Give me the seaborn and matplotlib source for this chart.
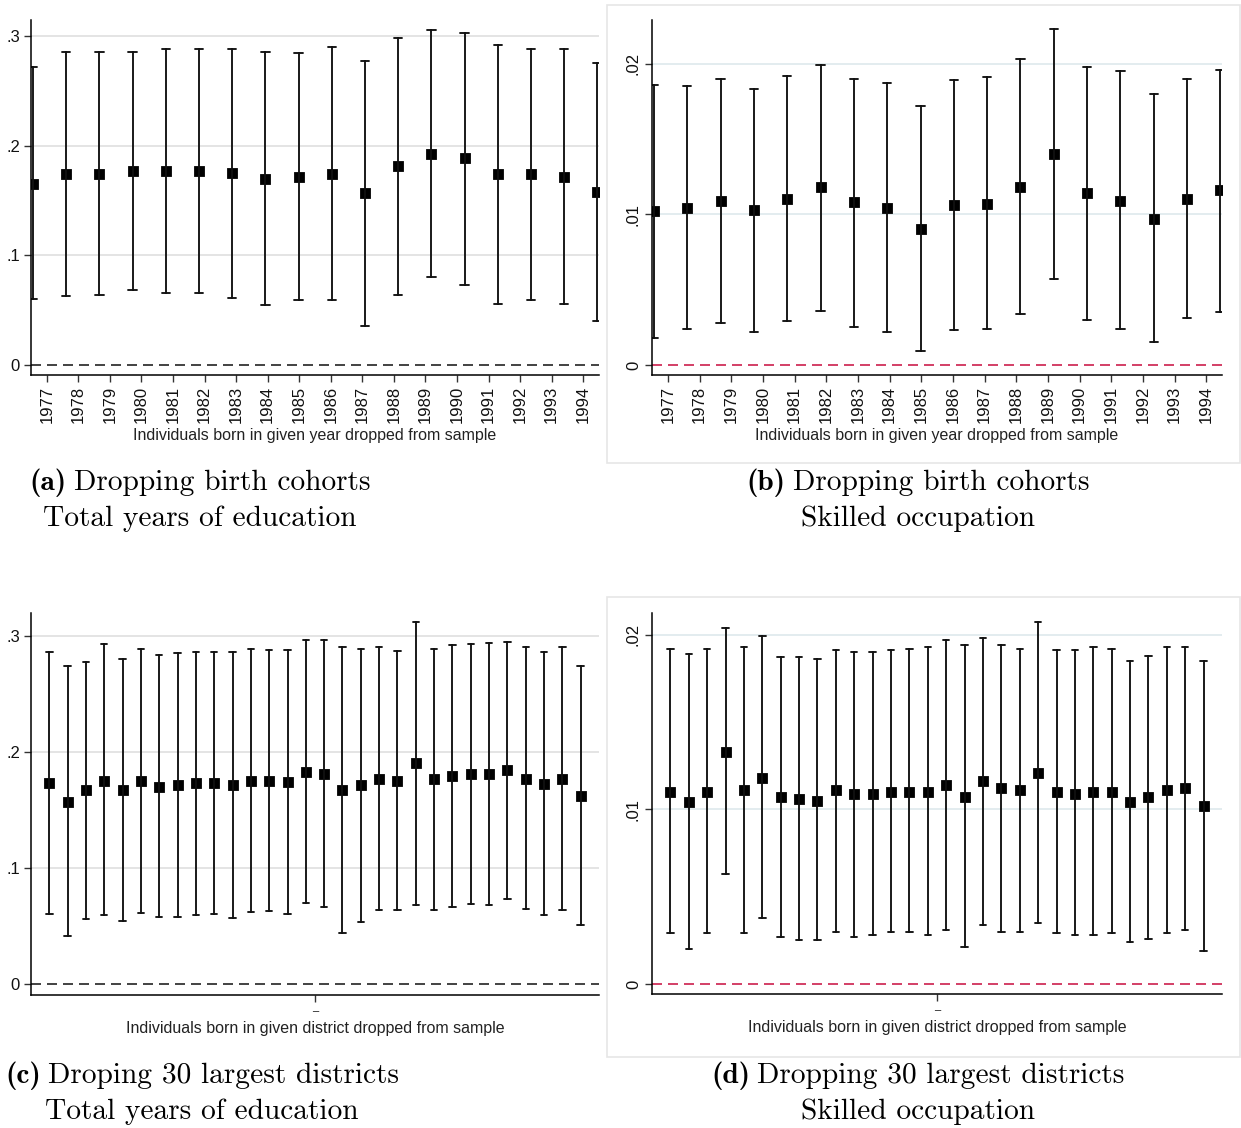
import numpy as np
import pandas as pd
import matplotlib
matplotlib.use("Agg")
import matplotlib.pyplot as plt
import seaborn as sns
from matplotlib.patches import Rectangle

# Veriler
years = [str(y) for y in range(1977, 1995)]
districts = [str(d) for d in range(1, 31)]

# (a) dogum kohortlari - toplam egitim yili
edu_year_est = [0.165, 0.174, 0.174, 0.177, 0.177, 0.177, 0.175, 0.170, 0.171,
                0.174, 0.157, 0.181, 0.192, 0.189, 0.174, 0.174, 0.171, 0.158]
edu_year_hi = [0.272, 0.285, 0.285, 0.285, 0.288, 0.288, 0.288, 0.285, 0.284,
               0.290, 0.277, 0.298, 0.305, 0.303, 0.292, 0.288, 0.288, 0.275]
edu_year_lo = [0.060, 0.063, 0.064, 0.068, 0.066, 0.066, 0.061, 0.055, 0.059,
               0.059, 0.036, 0.064, 0.080, 0.073, 0.056, 0.059, 0.056, 0.040]

# (b) dogum kohortlari - nitelikli meslek
occ_year_est = [0.0102, 0.0104, 0.0109, 0.0103, 0.0110, 0.0118, 0.0108, 0.0104, 0.0090,
                0.0106, 0.0107, 0.0118, 0.0140, 0.0114, 0.0109, 0.0097, 0.0110, 0.0116]
occ_year_hi = [0.0186, 0.0185, 0.0190, 0.0183, 0.0192, 0.0199, 0.0190, 0.0187, 0.0172,
               0.0189, 0.0191, 0.0203, 0.0223, 0.0198, 0.0195, 0.0180, 0.0190, 0.0196]
occ_year_lo = [0.0018, 0.0024, 0.0028, 0.0022, 0.0029, 0.0036, 0.0025, 0.0022, 0.0009,
               0.0023, 0.0024, 0.0034, 0.0057, 0.0030, 0.0024, 0.0015, 0.0031, 0.0035]

# (c) en buyuk 30 ilce - toplam egitim yili
edu_dist_est = [0.173, 0.157, 0.167, 0.175, 0.167, 0.175, 0.170, 0.171, 0.173, 0.173,
                0.171, 0.175, 0.175, 0.174, 0.183, 0.181, 0.167, 0.171, 0.177, 0.175,
                0.190, 0.177, 0.179, 0.181, 0.181, 0.184, 0.177, 0.172, 0.177, 0.162]
edu_dist_hi = [0.286, 0.274, 0.277, 0.293, 0.280, 0.289, 0.283, 0.285, 0.286, 0.286,
               0.286, 0.289, 0.288, 0.288, 0.296, 0.296, 0.290, 0.289, 0.290, 0.287,
               0.312, 0.289, 0.292, 0.293, 0.294, 0.295, 0.290, 0.286, 0.290, 0.274]
edu_dist_lo = [0.060, 0.041, 0.056, 0.059, 0.054, 0.061, 0.058, 0.058, 0.059, 0.060,
               0.057, 0.062, 0.063, 0.060, 0.070, 0.066, 0.044, 0.053, 0.064, 0.064,
               0.068, 0.064, 0.066, 0.069, 0.068, 0.073, 0.065, 0.059, 0.064, 0.051]

# (d) en buyuk 30 ilce - nitelikli meslek
occ_dist_est = [0.0110, 0.0104, 0.0110, 0.0133, 0.0111, 0.0118, 0.0107, 0.0106, 0.0105, 0.0111,
                0.0109, 0.0109, 0.0110, 0.0110, 0.0110, 0.0114, 0.0107, 0.0116, 0.0112, 0.0111,
                0.0121, 0.0110, 0.0109, 0.0110, 0.0110, 0.0104, 0.0107, 0.0111, 0.0112, 0.0102]
occ_dist_hi = [0.0192, 0.0189, 0.0192, 0.0204, 0.0193, 0.0199, 0.0187, 0.0187, 0.0186, 0.0191,
               0.0190, 0.0190, 0.0191, 0.0192, 0.0193, 0.0197, 0.0194, 0.0198, 0.0194, 0.0192,
               0.0207, 0.0191, 0.0191, 0.0193, 0.0192, 0.0185, 0.0188, 0.0193, 0.0193, 0.0185]
occ_dist_lo = [0.0029, 0.0020, 0.0029, 0.0063, 0.0029, 0.0038, 0.0027, 0.0025, 0.0025, 0.0030,
               0.0027, 0.0028, 0.0030, 0.0030, 0.0028, 0.0031, 0.0021, 0.0034, 0.0030, 0.0030,
               0.0035, 0.0029, 0.0028, 0.0028, 0.0029, 0.0024, 0.0026, 0.0029, 0.0031, 0.0019]

edu_ticks = [0, 0.1, 0.2, 0.3]
edu_ticklabels = ["0", ".1", ".2", ".3"]
occ_ticks = [0, 0.01, 0.02]
occ_ticklabels = ["0", ".01", ".02"]

year_xlabel = "Individuals born in given year dropped from sample"
dist_xlabel = "Individuals born in given district dropped from sample"

captions = {
    "a": ("(a)", "Dropping birth cohorts", "Total years of education"),
    "b": ("(b)", "Dropping birth cohorts", "Skilled occupation"),
    "c": ("(c)", "Droping 30 largest districts", "Total years of education"),
    "d": ("(d)", "Dropping 30 largest districts", "Skilled occupation"),
}

W, H = 1241, 1128
SANS = ["Liberation Sans", "DejaVu Sans"]
CAP_SIZE = 21.2


def long_form(cats, lo, est, hi):
    """Her kategori icin alt, tahmin, ust degerleri uzun tabloya cevirir"""
    rows = []
    for c, a, b, d in zip(cats, lo, est, hi):
        rows += [(c, a), (c, b), (c, d)]
    return pd.DataFrame(rows, columns=["cat", "val"])


def px_axes(fig, left, right, top, bottom):
    return fig.add_axes([left / W, 1 - bottom / H, (right - left) / W, (bottom - top) / H])


def draw_panel(ax, cats, lo, est, hi, ylim, yticks, yticklabels, rotate_y,
               zero_color, grid_color, xlim, capsize):
    df = long_form(cats, lo, est, hi)
    sns.pointplot(data=df, x="cat", y="val", order=cats, ax=ax,
                  estimator="median", errorbar=("pi", 100),
                  linestyle="none", marker="s", markersize=6.2, color="black",
                  capsize=capsize, err_kws={"linewidth": 1.35, "color": "#111111"})
    for t in yticks:
        if t != 0:
            ax.axhline(t, color=grid_color, lw=1.3, zorder=0)
    ax.axhline(0, color=zero_color, lw=1.2, ls=(0, (6, 3.6)), zorder=1)
    ax.set_xlim(*xlim)
    ax.set_ylim(*ylim)
    ax.set_yticks(yticks)
    if rotate_y:
        ax.set_yticklabels(yticklabels, rotation=90, va="center", fontsize=12, family=SANS)
    else:
        ax.set_yticklabels(yticklabels, fontsize=12, family=SANS)
    ax.set_ylabel("")
    for side in ["top", "right"]:
        ax.spines[side].set_visible(False)
    for side in ["left", "bottom"]:
        ax.spines[side].set_color("black")
        ax.spines[side].set_linewidth(1.1)
    ax.tick_params(axis="both", bottom=True, left=True, direction="out", length=5,
                   width=1, color="#333333", pad=3, labelcolor="#111111")
    ax.set_facecolor("white")


def year_axis(ax, xlim):
    n = len(years)
    pos = [xlim[0] + (i + 0.5) * (xlim[1] - xlim[0]) / n for i in range(n)]
    ax.set_xticks(pos)
    ax.set_xticklabels(years, rotation=90, fontsize=12, family=SANS)
    ax.set_xlabel(year_xlabel, fontsize=11.5, family=SANS, color="#222222")
    ax.xaxis.set_label_coords(0.5, -0.15)


def district_axis(ax, xlim):
    ax.set_xticks([(xlim[0] + xlim[1]) / 2])
    ax.set_xticklabels(["\u00af"], fontsize=8, family=SANS)
    ax.tick_params(axis="x", pad=7)
    ax.set_xlabel(dist_xlabel, fontsize=11.5, family=SANS, color="#222222")
    ax.xaxis.set_label_coords(0.5, -0.067)


def caption_line(fig, renderer, xc, y, tag, text):
    """Kalin etiket + normal metni ortalanmis sekilde yazar"""
    parts = []
    if tag:
        parts.append(fig.text(0, 0, tag, fontsize=CAP_SIZE, family="cmb10",
                              va="center", color="black"))
    parts.append(fig.text(0, 0, text, fontsize=CAP_SIZE, family="cmr10",
                          va="center", color="black"))
    gap = CAP_SIZE * 0.33 if tag else 0
    widths = [p.get_window_extent(renderer).width for p in parts]
    x = xc - (sum(widths) + gap) / 2
    for p, w in zip(parts, widths):
        p.set_position((x / W, 1 - y / H))
        x += w + gap


def caption(fig, renderer, x, y, key):
    tag, line1, line2 = captions[key]
    caption_line(fig, renderer, x, y, tag, line1)
    caption_line(fig, renderer, x, y + 36, None, line2)


def main():
    sns.set_theme(style="white")
    plt.rcParams["axes.unicode_minus"] = False

    fig = plt.figure(figsize=(W / 100, H / 100), dpi=100)
    fig.patch.set_facecolor("white")
    renderer = fig.canvas.get_renderer()

    # cerceveler (b) ve (d)
    for top, bottom in [(5, 463), (597, 1057)]:
        fig.add_artist(Rectangle((607 / W, 1 - bottom / H), (W - 608) / W, (bottom - top) / H,
                                 transform=fig.transFigure, fill=False,
                                 edgecolor="#e6e6e6", lw=1.2))

    year_xlim = (-0.06, 17.05)
    dist_xlim = (-1.0, 30.0)

    ax_a = px_axes(fig, 31, 599, 20, 375)
    draw_panel(ax_a, years, edu_year_lo, edu_year_est, edu_year_hi,
               (-0.0091, 0.3145), edu_ticks, edu_ticklabels, False,
               "#222222", "#e2e2e2", year_xlim, 0.25)
    year_axis(ax_a, year_xlim)

    ax_b = px_axes(fig, 652, 1222, 20, 375)
    draw_panel(ax_b, years, occ_year_lo, occ_year_est, occ_year_hi,
               (-0.00066, 0.0229), occ_ticks, occ_ticklabels, True,
               "#cc1f4d", "#e1eaee", year_xlim, 0.25)
    year_axis(ax_b, year_xlim)

    ax_c = px_axes(fig, 31, 599, 613, 995)
    draw_panel(ax_c, districts, edu_dist_lo, edu_dist_est, edu_dist_hi,
               (-0.0095, 0.3196), edu_ticks, edu_ticklabels, False,
               "#222222", "#e2e2e2", dist_xlim, 0.35)
    district_axis(ax_c, dist_xlim)

    ax_d = px_axes(fig, 652, 1222, 613, 994)
    draw_panel(ax_d, districts, occ_dist_lo, occ_dist_est, occ_dist_hi,
               (-0.00057, 0.02124), occ_ticks, occ_ticklabels, True,
               "#cc1f4d", "#e1eaee", dist_xlim, 0.35)
    district_axis(ax_d, dist_xlim)

    caption(fig, renderer, 200, 483, "a")
    caption(fig, renderer, 918, 483, "b")
    caption(fig, renderer, 202, 1076, "c")
    caption(fig, renderer, 918, 1076, "d")

    fig.savefig("out.png", dpi=100, facecolor="white")


if __name__ == "__main__":
    main()
